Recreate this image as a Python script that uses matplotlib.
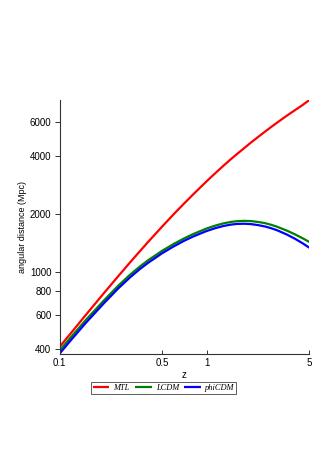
import matplotlib
matplotlib.use("Agg")
import matplotlib.pyplot as plt
from matplotlib.ticker import FixedLocator, NullLocator

z = [0.1, 0.12, 0.15, 0.2, 0.25, 0.3, 0.35, 0.4, 0.5, 0.6, 0.7, 0.8, 0.9, 1.0,
     1.15, 1.3, 1.45, 1.6, 1.8, 2.0, 2.25, 2.5, 2.75, 3.0, 3.5, 4.0, 4.5, 5.0]
mtl = [410, 485, 597, 777, 950, 1117, 1277, 1432, 1725, 2000, 2258, 2500, 2730, 2950,
       3260, 3550, 3820, 4070, 4380, 4680, 5020, 5340, 5640, 5920, 6440, 6900, 7330, 7780]
lcdm = [392, 462, 562, 712, 848, 965, 1065, 1150, 1290, 1400, 1490, 1565, 1625, 1680,
        1740, 1785, 1815, 1832, 1840, 1835, 1815, 1790, 1755, 1718, 1640, 1565, 1495, 1430]
phicdm = [378, 446, 543, 689, 821, 935, 1033, 1116, 1253, 1360, 1448, 1520, 1578, 1630,
          1688, 1730, 1758, 1773, 1778, 1770, 1748, 1720, 1685, 1647, 1565, 1485, 1408, 1335]

series_names = ["MTL", "LCDM", "phiCDM"]
series_colors = ["#ff0000", "#008000", "#0000ff"]

yticks = [400, 600, 800, 1000, 2000, 4000, 6000]
xticks = [0.1, 0.5, 1, 5]
xticklabels = ["0.1", "0.5", "1", "5"]

plt.rcParams['font.family'] = ['Liberation Sans', 'DejaVu Sans']

fig = plt.figure(figsize=(3.27, 4.63), dpi=100)
ax = fig.add_axes([0.1826, 0.2365, 0.946 - 0.1826, 0.784 - 0.2365])

for vals, name, col in zip([mtl, lcdm, phicdm], series_names, series_colors):
    ax.plot(z, vals, color=col, lw=1.6, label=name, solid_capstyle='butt',
            solid_joinstyle='round')

ax.set_xscale('log')
ax.set_yscale('log')
ax.set_xlim(0.1, 5)
ax.set_ylim(378, 7780)

ax.xaxis.set_major_locator(FixedLocator(xticks))
ax.set_xticklabels(xticklabels)
ax.xaxis.set_minor_locator(NullLocator())
ax.yaxis.set_major_locator(FixedLocator(yticks))
ax.set_yticklabels([str(v) for v in yticks])
ax.yaxis.set_minor_locator(NullLocator())

for s in ['top', 'right']:
    ax.spines[s].set_visible(False)
for s in ['left', 'bottom']:
    ax.spines[s].set_linewidth(0.8)
    ax.spines[s].set_color('#333333')

ax.tick_params(axis='y', direction='out', length=3.5, width=0.7, labelsize=7, pad=2.5,
               colors='#333333', labelcolor='black')
ax.tick_params(axis='x', direction='in', length=3, width=0.7, labelsize=7, pad=3,
               colors='#333333', labelcolor='black')

ax.set_xlabel('z', fontsize=7, labelpad=2)
ax.set_ylabel('angular distance (Mpc)', fontsize=6.5, labelpad=2)

leg = fig.legend(loc='center', bbox_to_anchor=(163.5 / 327, 1 - 388 / 463), ncol=3,
                 prop={'family': 'Liberation Serif', 'style': 'italic', 'size': 6},
                 frameon=True, fancybox=False, edgecolor='#333333', handlelength=2.0,
                 handletextpad=0.5, columnspacing=0.6, borderpad=0.2, borderaxespad=0)
leg.get_frame().set_linewidth(0.7)

fig.savefig('out.png', dpi=100)
